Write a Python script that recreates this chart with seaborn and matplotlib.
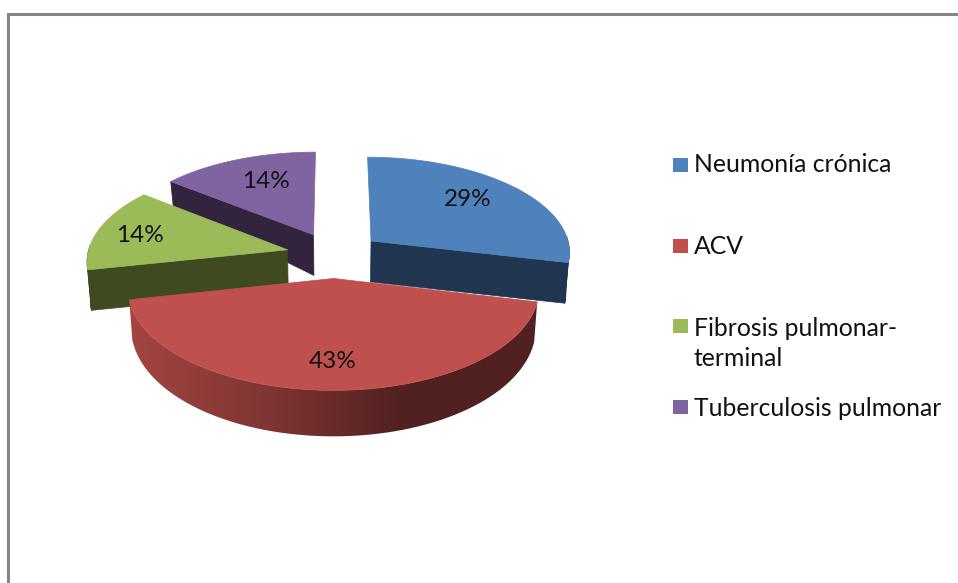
import numpy as np
import matplotlib
matplotlib.use('Agg')
import matplotlib.pyplot as plt
from matplotlib.patches import Polygon
import seaborn as sns

# datos
categories = ['Neumonía crónica', 'ACV', 'Fibrosis pulmonar-\nterminal', 'Tuberculosis pulmonar']
values = [29, 43, 14, 14]

top_colors = ['#4F81BD', '#C0504D', '#9BBB59', '#8064A2']
side_colors = ['#1F3550', '#7F3533', '#3F4A20', '#32243F']
draw_order = [3, 2, 0, 1]

# proyeccion del pastel (pixeles de la imagen)
cx, cy = 334, 255
radius_x, radius_y = 200, 95.4
persp = 0.105
explode = 0.24
shrink = 0.985
start_angle = np.deg2rad(-1.2)
slice_radius = [1.0, 0.995, 1.0, 1.0]

label_xy = [(468, 199), (333, 361), (140, 236), (266, 181)]
legend_y = [165, 246, 326, 407]
legend_text_y = [[165], [246], [328, 359], [408]]

sns.set_theme(style='white')
plt.rcParams['font.family'] = ['Lato', 'DejaVu Sans']

fig = plt.figure(figsize=(9.58, 5.83), dpi=100)
ax = fig.add_axes([0, 0, 1, 1])
ax.set_xlim(0, 958)
ax.set_ylim(583, 0)
ax.axis('off')

# marco del grafico, cortado a la derecha y abajo
ax.plot([8.5, 8.5, 958], [583, 13.5, 13.5], color='#868686', lw=2.2, solid_joinstyle='miter')


def project(t, r, mid):
    # t en radianes, sentido horario desde arriba
    X = explode * np.sin(mid) + r * np.sin(t)
    Y = explode * np.cos(mid) + r * np.cos(t)
    s = 1 / (1 + persp * Y)
    x = cx + radius_x * X * s
    y = cy - radius_y * Y * s
    depth = np.interp(Y, [-1.24, -0.5, 0.2, 0.854], [46, 40, 41, 24])
    return x, y, cx + (x - cx) * shrink, y + depth


def side_face(t, r, mid, color, z):
    x0, y0, bx0, by0 = project(t, 0.0, mid)
    x1, y1, bx1, by1 = project(t, r, mid)
    ax.add_patch(Polygon([(x0, y0), (x1, y1), (bx1, by1), (bx0, by0)],
                         facecolor=color, edgecolor=color, lw=0.5, zorder=z))


fractions = np.array(values) / sum(values)
edges = np.concatenate([[0], np.cumsum(fractions)]) * 2 * np.pi + start_angle
# el corte de arriba queda vertical
edges[0] = 0
edges[-1] = 2 * np.pi

# degradado del borde curvo del sector rojo: claro a la izquierda, oscuro a la derecha
ramp_x = np.arange(120, 550)
ramp = np.interp(ramp_x, [130, 170, 270, 403, 540], [1.3, 1.2, 1.0, 0.63, 0.63])
ramp_rgb = np.clip(np.array(matplotlib.colors.to_rgb(side_colors[1]))[None, None, :] * ramp[None, :, None], 0, 1)

for rank, i in enumerate(draw_order):
    t0, t1 = edges[i], edges[i + 1]
    mid = (t0 + t1) / 2
    r = slice_radius[i]
    z = 2 + rank * 3
    # caras radiales que miran al frente
    if np.sin(t0) < -1e-6:
        side_face(t0, r, mid, side_colors[i], z)
    if np.sin(t1) > 1e-6:
        side_face(t1, r, mid, side_colors[i], z)
    # borde curvo
    ts = np.linspace(t0, t1, 200)
    ts = ts[np.cos(ts) < 0.05]
    if len(ts) > 1:
        xt, yt, xb, yb = project(ts, r, mid)
        pts = list(zip(xt, yt)) + list(zip(xb[::-1], yb[::-1]))
        if i == 1:
            rim = Polygon(pts, facecolor='none', edgecolor='none', transform=ax.transData)
            ax.add_patch(rim)
            im = ax.imshow(ramp_rgb, extent=(120, 550, 450, 270), aspect='auto',
                           interpolation='bilinear', zorder=z + 1)
            im.set_clip_path(rim)
        else:
            ax.add_patch(Polygon(pts, facecolor=side_colors[i], edgecolor=side_colors[i],
                                 lw=0.5, zorder=z + 1))
    # cara superior
    arc = np.linspace(t0, t1, 200)
    ax0, ay0, _, _ = project(t0, 0.0, mid)
    ax1, ay1, _, _ = project(arc, r, mid)
    pts = [(ax0, ay0)] + list(zip(ax1, ay1))
    ax.add_patch(Polygon(pts, facecolor=top_colors[i], edgecolor=top_colors[i], lw=0.5, zorder=z + 2))

# etiquetas de porcentaje
for v, (lx, ly) in zip(values, label_xy):
    ax.text(lx, ly, f'{v}%', ha='center', va='center', fontsize=17.5, color='#111111', zorder=30)

# leyenda
sns.scatterplot(x=[680.5] * len(categories), y=legend_y, hue=categories, palette=top_colors,
                marker='s', s=112, linewidth=0, legend=False, ax=ax, zorder=30)
for name, ys in zip(categories, legend_text_y):
    for line, ly in zip(name.split('\n'), ys):
        ax.text(694, ly, line, ha='left', va='center', fontsize=17.8, color='#111111', zorder=30)

ax.set_xlim(0, 958)
ax.set_ylim(583, 0)
fig.savefig('out.png', dpi=100)
